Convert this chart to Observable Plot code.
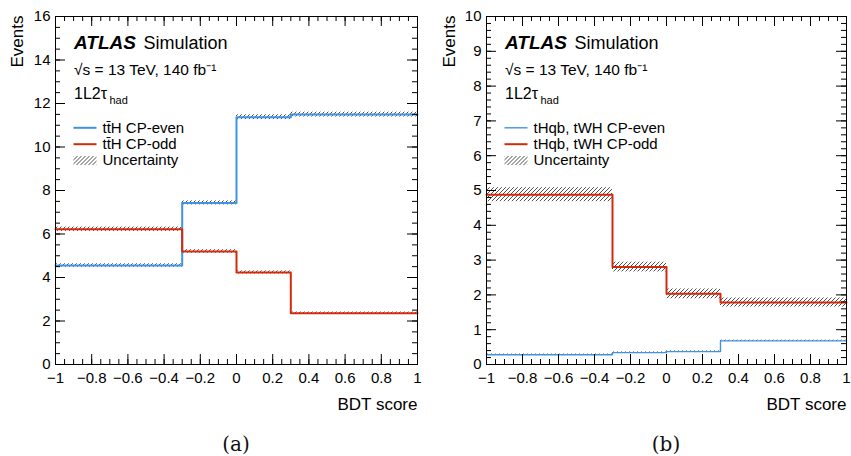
<!DOCTYPE html>
<html>
<head>
<meta charset="utf-8">
<script src="https://cdn.jsdelivr.net/npm/d3@7"></script>
<script src="https://cdn.jsdelivr.net/npm/@observablehq/plot@0.6"></script>
<style>
  html, body { margin: 0; padding: 0; background: #fff; }
  #wrap { position: relative; width: 851px; height: 456px; overflow: hidden; background: #fff; }
  .panel { position: absolute; top: 0; }
  .panel svg { overflow: visible; }
  .cap { position: absolute; top: 431px; font-family: "DejaVu Serif", "Liberation Serif", serif; font-size: 20px; color: #111; transform: translateX(-50%); line-height: 26px; }
</style>
</head>
<body>
<svg width="0" height="0" style="position:absolute">
  <defs>
    <pattern id="hatch" patternUnits="userSpaceOnUse" width="4" height="4">
      <path d="M-1,1 L1,-1 M0,4 L4,0 M3,5 L5,3" stroke="#3a3a3a" stroke-width="0.9" fill="none"/>
    </pattern>
  </defs>
</svg>
<div id="wrap">
  <div class="panel" id="pa" style="left:0px"></div>
  <div class="panel" id="pb" style="left:425px"></div>
  <div class="cap" style="left:236px">(a)</div>
  <div class="cap" style="left:666px">(b)</div>
</div>
<script>
// ---- data ----
const binEdges = [-1, -0.3, 0, 0.3, 1];

// (a) ttH
const ttHEven    = [4.55, 7.43, 11.37, 11.49];
const ttHOdd     = [6.22, 5.20, 4.23, 2.36];
const ttHEvenUnc = [0.08, 0.09, 0.11, 0.11];
const ttHOddUnc  = [0.10, 0.08, 0.07, 0.05];

// (b) tHqb, tWH
const tHEven    = [0.28, 0.34, 0.37, 0.68];
const tHOdd     = [4.88, 2.80, 2.03, 1.78];
const tHEvenUnc = [0.02, 0.02, 0.02, 0.02];
const tHOddUnc  = [0.20, 0.14, 0.14, 0.13];

const xTicks  = [-1, -0.8, -0.6, -0.4, -0.2, 0, 0.2, 0.4, 0.6, 0.8, 1];
const yTicksA = [0, 2, 4, 6, 8, 10, 12, 14, 16];
const yTicksB = [0, 1, 2, 3, 4, 5, 6, 7, 8, 9, 10];

const legendA = ["tt\u0304H CP-even", "tt\u0304H CP-odd", "Uncertainty"];
const legendB = ["tHqb, tWH CP-even", "tHqb, tWH CP-odd", "Uncertainty"];

const atlasLines = ["ATLAS", "Simulation", "\u221As = 13 TeV, 140 fb\u207B\u00B9", "1L2\u03C4", "had"];
const xTitle = "BDT score";
const yTitle = "Events";

const BLUE = "#3f93e2";
const RED = "#d32a0c";
const FONT = "'Liberation Sans', Arial, Helvetica, sans-serif";

const fmt = d => (d === 0 ? "0" : String(d).replace("-", "\u2212"));

function panel(o) {
  const H = 412, mt = 16, mb = 48;
  const FW = o.width - o.marginLeft - o.marginRight;
  const FH = H - mt - mb;
  const xMinor = d3.range(-20, 21).map(i => i * 0.05);
  const yMinor = d3.range(0, Math.round(o.yMax / o.yMinorStep) + 1).map(i => i * o.yMinorStep);
  const bins = (vals, unc) => vals.map((v, i) => ({x1: binEdges[i], x2: binEdges[i + 1], y1: v - unc[i], y2: v + unc[i]}));
  const steps = vals => binEdges.map((e, i) => ({x: e, y: vals[Math.min(i, vals.length - 1)]}));

  const T = (str, x, base, size, extra = {}) => Plot.text([str], {
    text: d => d, frameAnchor: "top-left", textAnchor: "start", lineAnchor: "top",
    dx: x, dy: base - mt - 0.71 * size, fontSize: size, fill: "black", ...extra
  });
  const legendRows = [111.3, 127.7, 144];
  const lineSym = {draw(ctx) { ctx.moveTo(-11.5, 0); ctx.lineTo(11.5, 0); }};
  const boxSym = {draw(ctx) { ctx.rect(-11.5, -4.5, 23, 9); }};
  const legendText = (str, row) => Plot.text([str], {
    text: d => d, frameAnchor: "top-left", textAnchor: "start", lineAnchor: "middle",
    dx: 47, dy: legendRows[row], fontSize: 15, fill: "black"
  });

  return Plot.plot({
    width: o.width, height: H,
    marginLeft: o.marginLeft, marginRight: o.marginRight, marginTop: mt, marginBottom: mb,
    x: {domain: [-1, 1]},
    y: {domain: [0, o.yMax]},
    style: {fontFamily: FONT, fontSize: "15px", color: "black", background: "white", overflow: "visible"},
    marks: [
      Plot.rect(bins(o.even, o.evenUnc), {x1: "x1", x2: "x2", y1: "y1", y2: "y2", fill: "url(#hatch)"}),
      Plot.rect(bins(o.odd, o.oddUnc), {x1: "x1", x2: "x2", y1: "y1", y2: "y2", fill: "url(#hatch)"}),
      Plot.line(steps(o.even), {x: "x", y: "y", curve: "step-after", stroke: BLUE, strokeWidth: o.evenWidth}),
      Plot.line(steps(o.odd), {x: "x", y: "y", curve: "step-after", stroke: RED, strokeWidth: 2}),
      Plot.frame({stroke: "black", strokeWidth: 1}),
      // ROOT-style inward ticks on all four sides
      Plot.tickX(xMinor, {x: d => d, insetTop: FH - 5, stroke: "black"}),
      Plot.tickX(xMinor, {x: d => d, insetBottom: FH - 5, stroke: "black"}),
      Plot.tickX(xTicks, {x: d => d, insetTop: FH - 10, stroke: "black"}),
      Plot.tickX(xTicks, {x: d => d, insetBottom: FH - 10, stroke: "black"}),
      Plot.tickY(yMinor, {y: d => d, insetRight: FW - 5, stroke: "black"}),
      Plot.tickY(yMinor, {y: d => d, insetLeft: FW - 5, stroke: "black"}),
      Plot.tickY(o.yTicks, {y: d => d, insetRight: FW - 10, stroke: "black"}),
      Plot.tickY(o.yTicks, {y: d => d, insetLeft: FW - 10, stroke: "black"}),
      Plot.axisX({ticks: xTicks, tickSize: 0, tickPadding: 8, tickFormat: fmt, label: null, fontSize: 15}),
      Plot.axisY({ticks: o.yTicks, tickSize: 0, tickPadding: 5, tickFormat: fmt, label: null, fontSize: 15}),
      // axis titles
      Plot.text([yTitle], {text: d => d, frameAnchor: "top-left", rotate: -90, textAnchor: "end", lineAnchor: "middle", dx: o.yTitleDx, dy: -1, fontSize: 17}),
      Plot.text([xTitle], {text: d => d, frameAnchor: "bottom-right", textAnchor: "end", lineAnchor: "top", dx: 0, dy: 33, fontSize: 17}),
      // ATLAS label block
      T(atlasLines[0], 18.5, 48, 19, {fontWeight: "bold", fontStyle: "italic"}),
      T(atlasLines[1], 88, 48, 18),
      T(atlasLines[2], 18.5, 74.5, 15.5),
      T(atlasLines[3], 18.5, 98.5, 16),
      T(atlasLines[4], 54, 103.5, 11),
      // legend
      Plot.dot([0], {frameAnchor: "top-left", dx: 29.5, dy: legendRows[0], symbol: lineSym, stroke: BLUE, strokeWidth: o.evenWidth, fill: "none"}),
      Plot.dot([0], {frameAnchor: "top-left", dx: 29.5, dy: legendRows[1], symbol: lineSym, stroke: RED, strokeWidth: 2, fill: "none"}),
      Plot.dot([0], {frameAnchor: "top-left", dx: 29.5, dy: legendRows[2], symbol: boxSym, fill: "url(#hatch)", stroke: "none"}),
      legendText(o.legend[0], 0),
      legendText(o.legend[1], 1),
      legendText(o.legend[2], 2)
    ]
  });
}

const pa = panel({
  even: ttHEven, odd: ttHOdd, evenUnc: ttHEvenUnc, oddUnc: ttHOddUnc,
  yMax: 16, yTicks: yTicksA, yMinorStep: 0.5, legend: legendA, evenWidth: 2,
  width: 425, marginLeft: 55, marginRight: 8, yTitleDx: -38
});
const pb = panel({
  even: tHEven, odd: tHOdd, evenUnc: tHEvenUnc, oddUnc: tHOddUnc,
  yMax: 10, yTicks: yTicksB, yMinorStep: 0.2, legend: legendB, evenWidth: 1.4,
  width: 426, marginLeft: 61, marginRight: 5, yTitleDx: -37
});
document.getElementById("pa").appendChild(pa);
document.getElementById("pb").appendChild(pb);
</script>
</body>
</html>
